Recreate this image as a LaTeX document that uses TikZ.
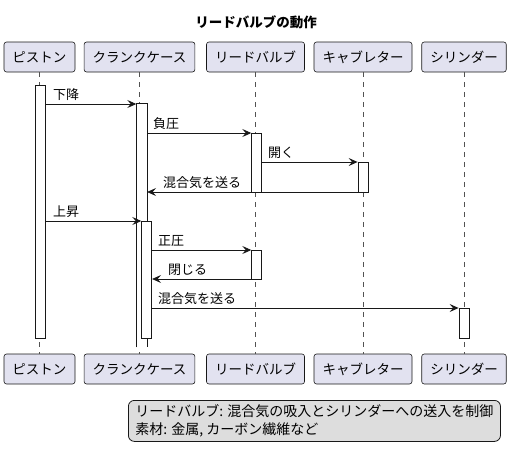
\documentclass[tikz,border=0pt]{standalone}
\usepackage{fontspec}
\setmainfont{Noto Sans CJK JP}
\usetikzlibrary{arrows.meta,positioning}
\definecolor{partfill}{HTML}{E2E2F0}
\definecolor{umlline}{HTML}{181818}
\definecolor{notefill}{HTML}{DDDDDD}

\begin{document}
\begin{tikzpicture}
  [x=1pt,y=-1pt,
   part/.style={draw=umlline,fill=partfill,rounded corners=2.5pt,line width=0.6pt,
     minimum height=30pt,inner xsep=8.5pt,font=\fontsize{13.5}{16}\selectfont},
   life/.style={draw=umlline!75,dash pattern=on 5pt off 5pt,line width=0.6pt},
   act/.style={draw=umlline,fill=white,line width=0.8pt,inner sep=0pt,minimum width=10pt},
   msg/.style={draw=umlline,line width=0.8pt,-{Stealth[length=9pt,width=8pt,inset=3.5pt]}},
   lbl/.style={anchor=base west,inner sep=0pt,font=\fontsize{13}{16}\selectfont},
   note/.style={draw=umlline,fill=notefill,rounded corners=6pt,line width=0.8pt,
     align=left,inner xsep=7pt,inner ysep=3pt,minimum height=41pt,
     font=\fontsize{14}{18}\selectfont}]
  \useasboundingbox (0,0) rectangle (517,461);

  \node (title) at (256,22) {\bfseries\fontsize{13.5}{16}\selectfont リードバルブの動作};

  \node[part] (pistT)  at (39.5,57)  {ピストン};
  \node[part] (crankT) at (139.5,57) {クランクケース};
  \node[part] (reedT)  at (255.5,57) {リードバルブ};
  \node[part] (carbT)  at (363,57)   {キャブレター};
  \node[part] (cylT)   at (464,57)   {シリンダー};

  \node[part] (pistB)  at (39.5,369)  {ピストン};
  \node[part] (crankB) at (139.5,369) {クランクケース};
  \node[part] (reedB)  at (255.5,369) {リードバルブ};
  \node[part] (carbB)  at (363,369)   {キャブレター};
  \node[part] (cylB)   at (464,369)   {シリンダー};

  \foreach \p in {pist,crank,reed,carb,cyl}
    \draw[life] (\p T) -- (\p B);

  % activations
  \node[act,minimum height=253pt] (aPist) at (40.4,211.5) {};
  \node[act,draw=none,minimum height=243pt] (aCrankA) at (141.7,225.5) {};
  \draw[act] (aCrankA.south west) |- (aCrankA.north) -| (aCrankA.south east);
  \node[act,minimum height=117pt] (aCrankB) at (146.7,279.5) {};
  \node[act,minimum height=59pt]  (aReedA)  at (256.7,162.5) {};
  \node[act,minimum height=30pt]  (aCarb)   at (363,177)     {};
  \node[act,minimum height=29pt]  (aReedB)  at (256.7,264.5) {};
  \node[act,minimum height=30pt]  (aCyl)    at (464,323)     {};

  % messages
  \foreach \from/\to/\y/\lx/\txt [count=\i] in
    {aPist.east/aCrankA.west/104/53/下降,
     aCrankA.east/aReedA.west/133/153/負圧,
     aReedA.east/aCarb.west/162/268/開く,
     aCarb.west/aCrankA.east/192/163/混合気を送る,
     aPist.east/aCrankB.west/221/53/上昇,
     aCrankB.east/aReedB.west/250/158/正圧,
     aReedB.west/aCrankB.east/279/168/閉じる,
     aCrankB.east/aCyl.west/308/158/混合気を送る}
  {
    \draw[msg] (\from |- 0,\y) -- (\to |- 0,\y);
    \node[lbl] (lbl\i) at (\lx,\y-5) {\txt};
  }

  \node[note,anchor=north west] (memo) at (128,400)
    {リードバルブ: 混合気の吸入とシリンダーへの送入を制御\\素材: 金属, カーボン繊維など};
\end{tikzpicture}
\end{document}
